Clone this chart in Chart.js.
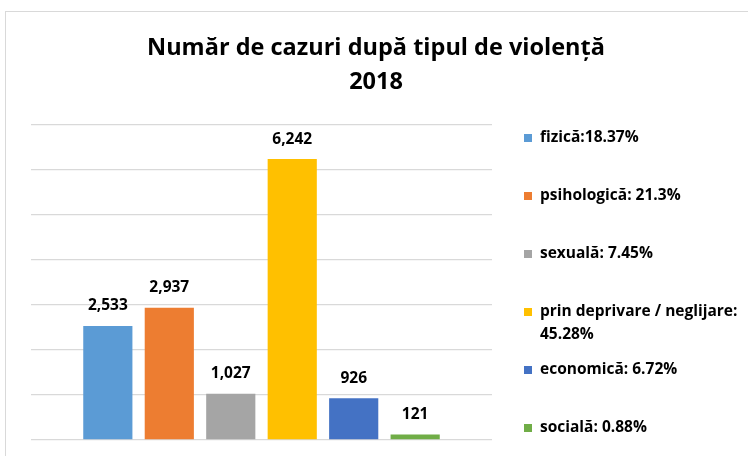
<!DOCTYPE html>
<html>
<head>
<meta charset="utf-8">
<script src="https://cdn.jsdelivr.net/npm/chart.js@4"></script>
<style>
  html, body { margin: 0; padding: 0; background: #fff; }
  #wrap { width: 748px; height: 456px; }
</style>
</head>
<body>
<div id="wrap"><canvas id="chart"></canvas></div>
<script>
const titleLines = ['Număr de cazuri după tipul de violență', '2018'];
const seriesNames = ['fizică', 'psihologică', 'sexuală', 'prin deprivare / neglijare', 'economică', 'socială'];
const seriesValues = [2533, 2937, 1027, 6242, 926, 121];
const legendTexts = [
  ['fizică:18.37%'],
  ['psihologică: 21.3%'],
  ['sexuală: 7.45%'],
  ['prin deprivare / neglijare:', '45.28%'],
  ['economică: 6.72%'],
  ['socială: 0.88%']
];
const colors = ['#5B9BD5', '#ED7D31', '#A5A5A5', '#FFC000', '#4472C4', '#70AD47'];
const FONT = '"Open Sans", Lato, sans-serif';

// frame + title (title centred on the whole frame, like Excel)
const frame = {
  id: 'frame',
  beforeDraw(chart) {
    const c = chart.ctx;
    c.save();
    c.strokeStyle = '#d9d9d9';
    c.lineWidth = 1;
    c.strokeRect(5.5, 11.5, chart.width + 20, chart.height + 20);
    c.font = 'bold 23.5px ' + FONT;
    c.fillStyle = '#000';
    c.textAlign = 'center';
    c.textBaseline = 'middle';
    titleLines.forEach((t, i) => c.fillText(t, 376, 48 + i * 34));
    c.restore();
  }
};

// value labels above each bar
const valueLabels = {
  id: 'valueLabels',
  afterDatasetsDraw(chart) {
    const c = chart.ctx;
    c.save();
    c.font = 'bold 15.5px ' + FONT;
    c.fillStyle = '#000';
    c.textAlign = 'center';
    c.textBaseline = 'middle';
    chart.data.datasets.forEach((ds, i) => {
      const bar = chart.getDatasetMeta(i).data[0];
      c.fillText(ds.data[0].toLocaleString('en-US'), bar.x, bar.y - 20);
    });
    c.restore();
  }
};

// legend on the right, Excel style
const sideLegend = {
  id: 'sideLegend',
  afterDraw(chart) {
    const c = chart.ctx;
    c.save();
    c.font = 'bold 15.5px ' + FONT;
    c.textBaseline = 'middle';
    c.textAlign = 'left';
    chart.data.datasets.forEach((ds, i) => {
      const y = 138 + i * 58;
      c.fillStyle = ds.backgroundColor;
      c.fillRect(524, y - 4, 8, 8);
      c.fillStyle = '#000';
      legendTexts[i].forEach((t, j) => c.fillText(t, 540, y + j * 23));
    });
    c.restore();
  }
};

new Chart(document.getElementById('chart'), {
  type: 'bar',
  data: {
    labels: [''],
    datasets: seriesNames.map((name, i) => ({
      label: name,
      data: [seriesValues[i]],
      backgroundColor: colors[i],
      categoryPercentage: 0.8,
      barPercentage: 0.8
    }))
  },
  options: {
    responsive: true,
    maintainAspectRatio: false,
    animation: false,
    layout: { padding: { left: 31, right: 256, top: 125, bottom: 16 } },
    plugins: {
      legend: { display: false },
      tooltip: { enabled: false },
      title: { display: false }
    },
    scales: {
      x: { display: false },
      y: {
        min: 0, max: 7000,
        ticks: { display: false, stepSize: 1000 },
        border: { display: false },
        grid: { color: '#d9d9d9', lineWidth: 1.3, drawTicks: false }
      }
    }
  },
  plugins: [frame, valueLabels, sideLegend]
});
</script>
</body>
</html>
